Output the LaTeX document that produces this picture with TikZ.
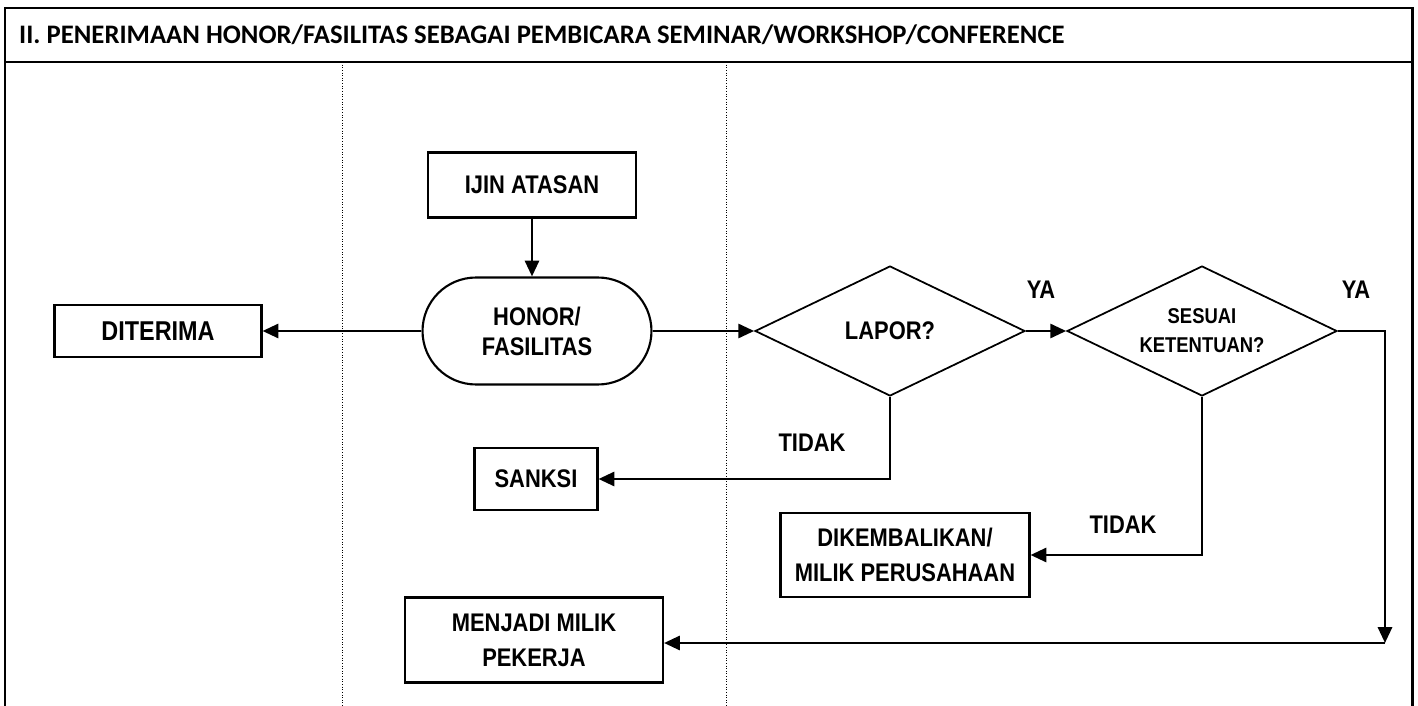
\documentclass[tikz,border=0pt]{standalone}
\usepackage{fontspec}
\setmainfont{Liberation Sans}[FakeStretch=0.86]
\newfontfamily\titlefont{Carlito}
\usetikzlibrary{arrows.meta,shapes.geometric,shapes.misc}

\tikzset{
  box/.style={draw, line width=1.2pt, rectangle, align=center, font=\bfseries\fontsize{14.5}{20}\selectfont, inner sep=2pt},
  pill/.style={draw, line width=1.2pt, rounded rectangle, align=center, font=\bfseries\fontsize{14.5}{17}\selectfont, inner sep=0pt},
  ask/.style={draw, line width=1pt, diamond, inner sep=0pt, minimum width=5.4cm, minimum height=2.6cm},
  flow/.style={line width=1.5pt, -{Triangle[length=9pt,width=8pt]}},
  tag/.style={font=\bfseries\fontsize{14.5}{17}\selectfont}
}

\begin{document}
\begin{tikzpicture}[x=0.02cm, y=-0.02cm]
  \useasboundingbox (0,0) rectangle (1418,706);

  % Draw frame and title bar
  \draw[line width=1.7pt] (5,706) -- (5,8) -- (1412,8) -- (1412,706);
  \draw[line width=1.7pt] (5,62) -- (1412,62);
  \node[anchor=west, font=\titlefont\bfseries\fontsize{15.2}{18}\selectfont] (title) at (13,35)
    {II. PENERIMAAN HONOR/FASILITAS SEBAGAI PEMBICARA SEMINAR/WORKSHOP/CONFERENCE};

  % Draw dotted lane lines
  \foreach \x in {342,726} {
    \draw[densely dotted, line width=0.5pt] (\x,62) -- (\x,706); % Lane line
  }

  % Nodes
  \node[box, minimum width=4.16cm, minimum height=1.3cm] (ijin) at (532,185) {IJIN ATASAN};
  \node[pill, minimum width=4.58cm, minimum height=2.14cm] (honor) at (537,331) {HONOR/\\FASILITAS};
  \node[box, minimum width=4.14cm, minimum height=1.04cm, font=\bfseries\fontsize{15.5}{18}\selectfont] (diterima) at (158,331) {DITERIMA};
  \node[ask, label={[font=\bfseries\fontsize{14.5}{17}\selectfont]center:LAPOR?}] (lapor) at (890,331) {};
  \node[ask, label={[align=center, font=\bfseries\fontsize{12.2}{16.5}\selectfont]center:SESUAI\\KETENTUAN?}] (sesuai) at (1202,331) {};
  \node[box, minimum width=2.46cm, minimum height=1.24cm] (sanksi) at (536,479) {SANKSI};
  \node[box, minimum width=4.98cm, minimum height=1.68cm] (kembali) at (905,555) {DIKEMBALIKAN/\\MILIK PERUSAHAAN};
  \node[box, minimum width=5.16cm, minimum height=1.7cm] (pekerja) at (534,640) {MENJADI MILIK\\PEKERJA};

  % Free ends of the YA branch
  \coordinate (turn) at (1385,331);
  \coordinate (down) at (1385,643);

  % Connectors
  \draw[flow] (ijin.south) -- (ijin.south |- honor.north);
  \draw[flow] (honor.west) -- (diterima.east);
  \draw[flow] (honor.east) -- (lapor.west);
  \draw[flow] (lapor.east) -- (sesuai.west);
  \draw[flow] (lapor.south) |- (sanksi.east);
  \draw[flow] (sesuai.south) |- (kembali.east);
  \draw[flow] (sesuai.east) -- (turn) -- (down);
  \draw[flow] (down) -- (pekerja.east |- down);

  % Labels
  \node[tag] (ya1) at (1041,290) {YA};
  \node[tag] (ya2) at (1356,290) {YA};
  \node[tag] (tidak1) at (812,443) {TIDAK};
  \node[tag] (tidak2) at (1123,525) {TIDAK};
\end{tikzpicture}
\end{document}
